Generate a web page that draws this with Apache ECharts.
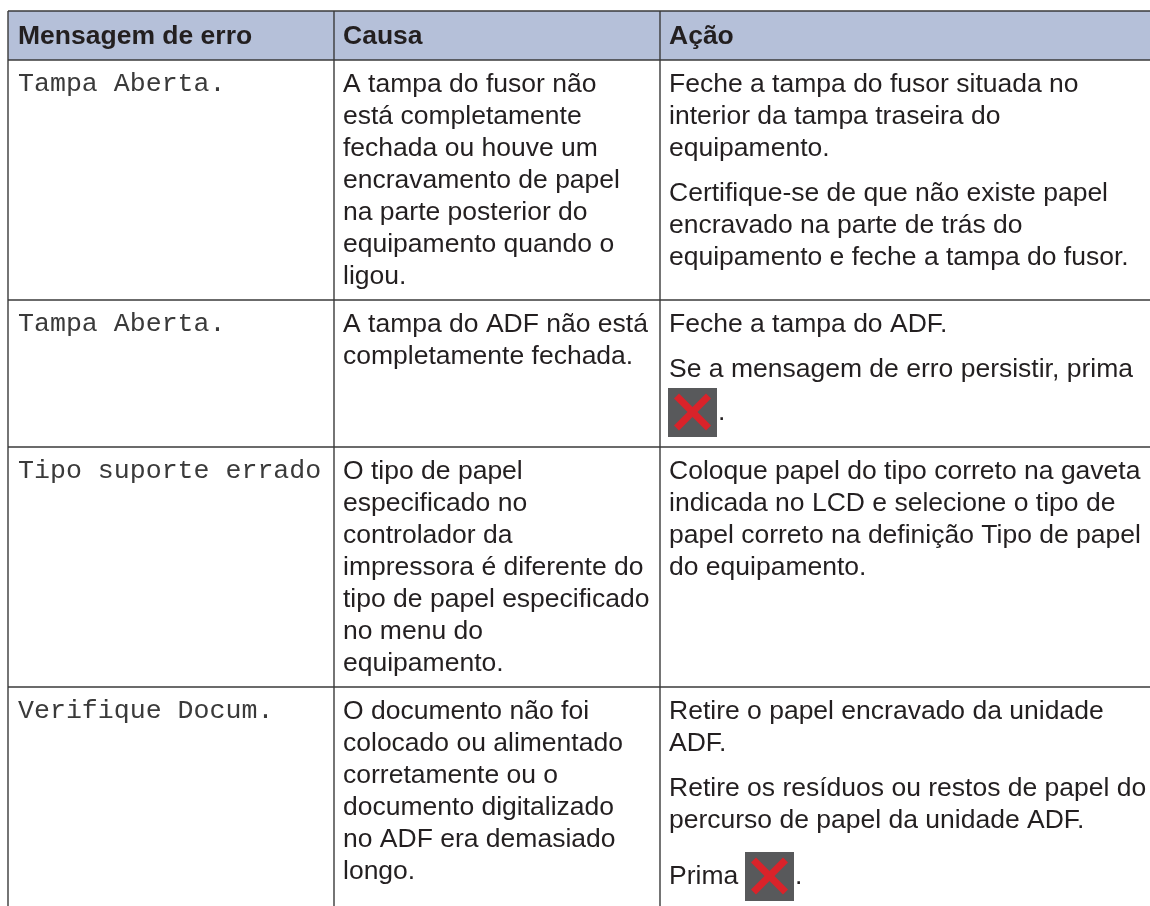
<!DOCTYPE html>
<html><head><meta charset="utf-8">
<style>html,body{margin:0;padding:0;background:#fff}#c{width:1150px;height:906px}</style>
<script src="https://cdn.jsdelivr.net/npm/echarts@6/dist/echarts.min.js"></script>
</head><body><div id="c"></div>
<script>
const headers = ["Mensagem de erro", "Causa", "Ação"];
const messages = ["Tampa Aberta.", "Tampa Aberta.", "Tipo suporte errado", "Verifique Docum."];
const causes = [
 ["A tampa do fusor não","está completamente","fechada ou houve um","encravamento de papel","na parte posterior do","equipamento quando o","ligou."],
 ["A tampa do ADF não está","completamente fechada."],
 ["O tipo de papel","especificado no","controlador da","impressora é diferente do","tipo de papel especificado","no menu do","equipamento."],
 ["O documento não foi","colocado ou alimentado","corretamente ou o","documento digitalizado","no ADF era demasiado","longo."]
];
const actions = [
 [["Feche a tampa do fusor situada no","interior da tampa traseira do","equipamento."],["Certifique-se de que não existe papel","encravado na parte de trás do","equipamento e feche a tampa do fusor."]],
 [["Feche a tampa do ADF."],["Se a mensagem de erro persistir, prima"],["@."]],
 [["Coloque papel do tipo correto na gaveta","indicada no LCD e selecione o tipo de","papel correto na definição Tipo de papel","do equipamento."]],
 [["Retire o papel encravado da unidade","ADF."],["Retire os resíduos ou restos de papel do","percurso de papel da unidade ADF."],["Prima @."]]
];
const rowLines = [60, 300, 447, 687];
const colLines = [8, 334, 660];
const iconShift = {1:-2, 3:11};
const LH = 32, FS = 26.5, PGAP = 13, DY = 2, INK = '#231f20', SANS = '"Liberation Sans",Arial,sans-serif', MONO = '"Liberation Mono",monospace';
const BODY = FS+'px '+SANS;
const els = [];
const ctx = document.createElement('canvas').getContext('2d');
function line(x1,y1,x2,y2,w,c){els.push({type:'line',z:3,shape:{x1,y1,x2,y2},style:{stroke:c||'#3a3a3a',lineWidth:w||1.4}});}
function text(t,x,y,o){els.push({type:'text',z:4,x,y:y+DY,style:Object.assign({text:t,fill:INK,font:BODY,textVerticalAlign:'middle'},o||{})});}
function icon(x,y){
  els.push({type:'rect',z:4,shape:{x,y,width:49,height:49},style:{fill:'#58595b'}});
  els.push({type:'line',z:5,shape:{x1:x+8.5,y1:y+8,x2:x+40.5,y2:y+40},style:{stroke:'#d9232a',lineWidth:7}});
  els.push({type:'line',z:5,shape:{x1:x+40.5,y1:y+8,x2:x+8.5,y2:y+40},style:{stroke:'#d9232a',lineWidth:7}});
}
els.push({type:'rect',z:1,shape:{x:8,y:11,width:1142,height:49},style:{fill:'#b5c0d9'}});
line(8,11,1150,11);
rowLines.forEach(y=>line(8,y,1150,y));
colLines.forEach(x=>line(x,11,x,906));
headers.forEach((h,i)=>text(h,colLines[i]+9+(i?0:1),35,{font:'bold '+FS+'px '+SANS}));
messages.forEach((m,i)=>text(m,18,rowLines[i]+22,{font:'26.6px '+MONO,fill:'#3a3a3a'}));
causes.forEach((c,i)=>c.forEach((l,j)=>text(l,colLines[1]+9,rowLines[i]+23+j*LH)));
actions.forEach((paras,i)=>{
  let y=rowLines[i]+23;
  const tx=colLines[2]+9;
  paras.forEach(p=>{
    p.forEach(l=>{
      if(l.includes('@')){
        const [pre,post]=l.split('@');
        ctx.font=BODY;
        const ix=Math.round(tx-1+ctx.measureText(pre).width);
        const cy=y+iconShift[i];
        if(pre) text(pre,tx,cy);
        icon(ix,cy-23);
        text(post,ix+50,cy);
      } else { text(l,tx,y); }
      y+=LH;
    });
    y+=PGAP;
  });
});
const chart = echarts.init(document.getElementById('c'),null,{renderer:'canvas'});
chart.setOption({animation:false,graphic:{elements:els}});
</script></body></html>
